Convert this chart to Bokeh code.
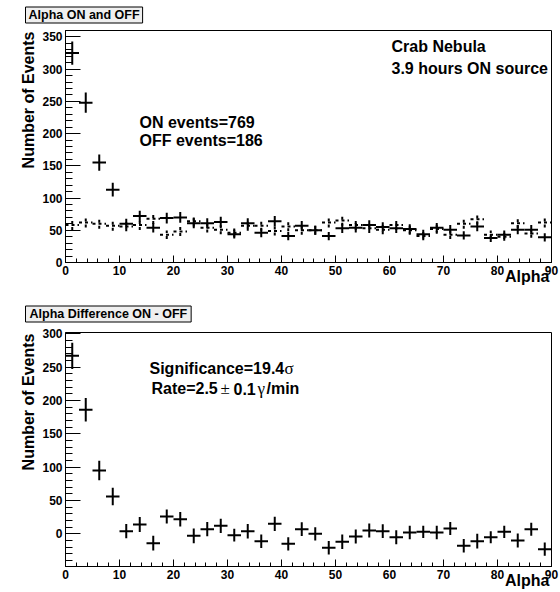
import numpy as np
from bokeh.plotting import figure
from bokeh.layouts import column
from bokeh.models import Label, SingleIntervalTicker, Range1d, ColumnDataSource, Title
from bokeh.embed import file_html
from bokeh.resources import INLINE

# ---------------- data ----------------
alpha = [1.25, 3.75, 6.25, 8.75, 11.25, 13.75, 16.25, 18.75, 21.25, 23.75,
         26.25, 28.75, 31.25, 33.75, 36.25, 38.75, 41.25, 43.75, 46.25, 48.75,
         51.25, 53.75, 56.25, 58.75, 61.25, 63.75, 66.25, 68.75, 71.25, 73.75,
         76.25, 78.75, 81.25, 83.75, 86.25, 88.75]
on_counts = [325, 248, 155, 113, 60, 72, 54, 69, 70, 61,
             61, 63, 44, 61, 46, 64, 41, 57, 50, 41,
             53, 54, 58, 55, 53, 52, 44, 54, 51, 42,
             56, 38, 43, 51, 51, 39]
off_counts = [58, 62, 60, 57, 56, 58, 68, 43, 48, 64,
              54, 51, 46, 57, 57, 49, 56, 50, 50, 62,
              65, 58, 53, 51, 58, 50, 41, 52, 43, 60,
              67, 43, 40, 61, 45, 62]
diff_counts = [267, 186, 95, 56, 4, 14, -14, 26, 22, -3,
               7, 12, -2, 4, -11, 15, -15, 7, 0, -21,
               -12, -4, 5, 4, -5, 2, 3, 2, 8, -18,
               -11, -5, 3, -10, 7, -23]
bin_half_width = 1.25
x_ticks_interval = 10

FONT = "Liberation Sans"
SERIF = "Liberation Serif"
W = 560
FL, FR = 65, 551  # frame left/right in px


class Geo:
    def __init__(self, height, top, bottom, y0, y1):
        self.height, self.top, self.bottom, self.y0, self.y1 = height, top, bottom, y0, y1

    def x(self, px):
        return (px - FL) / (FR - FL) * 90.0

    def y(self, py):
        return self.y0 + (self.bottom - py) / (self.bottom - self.top) * (self.y1 - self.y0)


def make_fig(g, y_interval):
    p = figure(width=W, height=g.height, x_range=Range1d(0, 90), y_range=Range1d(g.y0, g.y1),
               output_backend="svg", toolbar_location=None, title=None,
               min_border_left=FL, min_border_right=W - FR,
               min_border_top=g.top, min_border_bottom=g.height - g.bottom)
    p.grid.visible = False
    p.outline_line_color = "black"
    p.outline_line_width = 1
    p.background_fill_color = "white"
    p.border_fill_color = "white"
    p.xaxis.ticker = SingleIntervalTicker(interval=x_ticks_interval, num_minor_ticks=5)
    p.yaxis.ticker = SingleIntervalTicker(interval=y_interval, num_minor_ticks=5)
    for ax in (p.xaxis[0], p.yaxis[0]):
        ax.axis_line_color = "black"
        ax.axis_line_width = 1
        ax.major_tick_line_color = "black"
        ax.minor_tick_line_color = "black"
        ax.major_tick_out = 0
        ax.minor_tick_out = 0
        ax.major_label_text_font = FONT
        ax.major_label_text_font_style = "bold"
        ax.major_label_text_font_size = "12px"
        ax.major_label_text_color = "black"
        ax.major_label_standoff = 3
    p.xaxis.major_tick_in = 7
    p.xaxis.minor_tick_in = 4
    p.yaxis.major_tick_in = 15
    p.yaxis.minor_tick_in = 7
    return p


def crosses(p, x, y, err, dash="solid"):
    x = np.asarray(x, float)
    y = np.asarray(y, float)
    src = ColumnDataSource(dict(x=x, y=y, xl=x - bin_half_width, xr=x + bin_half_width,
                                lo=y - err, hi=y + err))
    p.segment(x0="xl", y0="y", x1="xr", y1="y", source=src,
              line_color="black", line_width=2, line_dash=dash)
    p.segment(x0="x", y0="lo", x1="x", y1="hi", source=src,
              line_color="black", line_width=2, line_dash=dash)


def text(p, g, px, py, s, size="16px", font=FONT, style="bold", align="left",
         baseline="alphabetic", angle=0.0, **kw):
    lab = Label(x=g.x(px), y=g.y(py), text=s, text_font=font, text_font_size=size,
                text_font_style=style, text_align=align, text_baseline=baseline,
                text_color="black", angle=angle, **kw)
    p.add_layout(lab)
    return lab


def side_titles(p, box_text, box_standoff, box_padx):
    p.add_layout(Title(text=box_text, align="left", vertical_align="top",
                       standoff=box_standoff, offset=-40,
                       text_font=FONT, text_font_style="bold", text_font_size="12.5px",
                       text_color="black", background_fill_color="#efefef",
                       border_line_color="black", border_line_width=1,
                       padding=dict(x=box_padx, y=1)), "above")
    p.add_layout(Title(text="Number of Events", align="right", vertical_align="bottom",
                       standoff=5, offset=1, text_font=FONT, text_font_style="bold",
                       text_font_size="16px", text_color="black"), "left")
    p.add_layout(Title(text="Alpha", align="right", vertical_align="top",
                       standoff=-20, offset=2, text_font=FONT, text_font_style="bold",
                       text_font_size="16px", text_color="black"), "below")


# ---------------- top panel ----------------
g1 = Geo(296, 30, 262, 0, 360)
p1 = make_fig(g1, 50)
on_err = np.sqrt(np.asarray(on_counts, float))
off_err = np.sqrt(np.asarray(off_counts, float))
crosses(p1, alpha, off_counts, off_err, dash="3 3")
crosses(p1, alpha, on_counts, on_err)
side_titles(p1, "Alpha ON and OFF", 11, 3)

text(p1, g1, 391, 46, "Crab Nebula")
text(p1, g1, 391, 68, "3.9 hours ON source")
text(p1, g1, 139, 122, "ON events=769")
text(p1, g1, 139, 140, "OFF events=186")

# ---------------- bottom panel ----------------
g2 = Geo(296, 36, 270, -49, 302)
p2 = make_fig(g2, 50)
diff_err = np.sqrt(np.asarray(on_counts, float) + np.asarray(off_counts, float))
crosses(p2, alpha, diff_counts, diff_err)
side_titles(p2, "Alpha Difference ON - OFF", 17, 4)

text(p2, g2, 149, 72, "Significance=19.4")
text(p2, g2, 284, 72, "σ", size="17px", font=SERIF, style="normal")
text(p2, g2, 151, 92, "Rate=2.5")
text(p2, g2, 220, 92, "±", size="17px", font=SERIF, style="normal")
text(p2, g2, 233, 92, "0.1")
text(p2, g2, 257, 92, "γ", size="17px", font=SERIF, style="normal")
text(p2, g2, 266, 92, "/min")

layout = column(p1, p2, spacing=0)
open("out.html", "w").write(file_html(layout, INLINE))
